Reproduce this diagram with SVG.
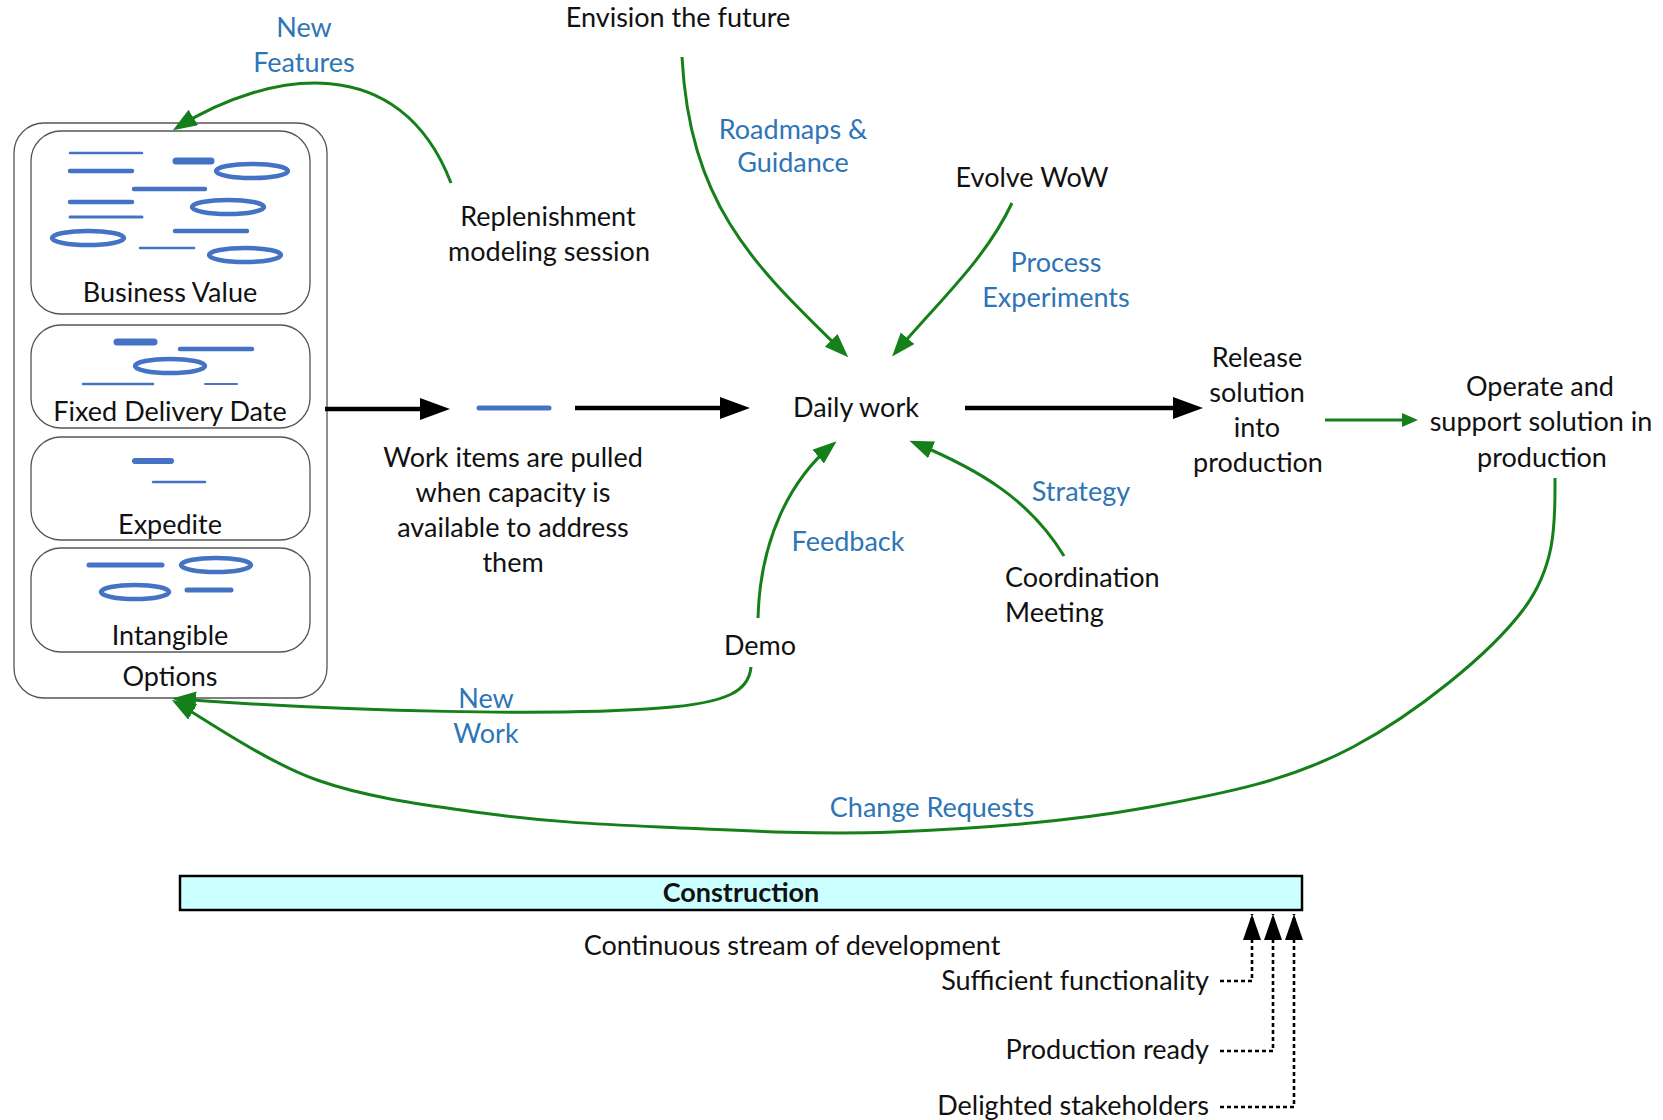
<svg xmlns="http://www.w3.org/2000/svg" width="1663" height="1120" viewBox="0 0 1663 1120">
<style>
text{font-family:Lato,"Liberation Sans",sans-serif;font-size:27px;fill:#111;text-anchor:middle}
.bl{fill:#2E75B6}
.l{text-anchor:start}
.r{text-anchor:end}
.bold{font-weight:bold}
.box{fill:none;stroke:#555;stroke-width:1.3}
.ic{fill:none;stroke:#4472C4;stroke-linecap:round}
.g{fill:none;stroke:#15801A;stroke-width:3}
.k{fill:none;stroke:#000;stroke-width:4.5}
.d{fill:none;stroke:#000;stroke-width:2.6;stroke-dasharray:4 3}
</style>
<defs>
<marker id="ak" markerUnits="userSpaceOnUse" markerWidth="32" markerHeight="24" refX="20" refY="11" orient="auto"><path d="M0,0 L30,11 L0,22 z" fill="#000"/></marker>
<marker id="ag" markerUnits="userSpaceOnUse" markerWidth="26" markerHeight="20" refX="18" refY="9" orient="auto"><path d="M0,0 L24,9 L0,18 z" fill="#15801A"/></marker>
<marker id="ags" markerUnits="userSpaceOnUse" markerWidth="18" markerHeight="16" refX="12" refY="7" orient="auto"><path d="M0,0 L16,7 L0,14 z" fill="#15801A"/></marker>
<marker id="ad" markerUnits="userSpaceOnUse" markerWidth="28" markerHeight="20" refX="26" refY="9" orient="auto"><path d="M0,0 L26,9 L0,18 z" fill="#000"/></marker>
</defs>

<g id="options">
<rect x="14" y="123" width="313" height="575" rx="30" class="box" stroke="#333"/>
<text x="170" y="686">Options</text>
</g>
<g id="business-value">
<rect x="31" y="131" width="279" height="183" rx="30" class="box"/>
<line x1="70" y1="153" x2="142" y2="153" class="ic" stroke-width="2.5"/>
<line x1="70" y1="171" x2="132" y2="171" class="ic" stroke-width="4.5"/>
<line x1="176" y1="161" x2="211" y2="161" class="ic" stroke-width="7"/>
<ellipse cx="252" cy="171" rx="36" ry="7" class="ic" stroke-width="4.5"/>
<line x1="134" y1="189" x2="205" y2="189" class="ic" stroke-width="4.5"/>
<line x1="70" y1="202" x2="132" y2="202" class="ic" stroke-width="4.5"/>
<line x1="70" y1="217" x2="142" y2="217" class="ic" stroke-width="3"/>
<ellipse cx="228" cy="207" rx="36" ry="7" class="ic" stroke-width="4.5"/>
<line x1="175" y1="231" x2="247" y2="231" class="ic" stroke-width="4.5"/>
<ellipse cx="88" cy="238" rx="36" ry="7" class="ic" stroke-width="4.5"/>
<line x1="140" y1="248" x2="194" y2="248" class="ic" stroke-width="2.5"/>
<ellipse cx="245" cy="255" rx="36" ry="7" class="ic" stroke-width="4.5"/>
<text x="170" y="302">Business Value</text>
</g>
<g id="fixed-delivery-date">
<rect x="31" y="325" width="279" height="103" rx="30" class="box"/>
<line x1="117" y1="342" x2="154" y2="342" class="ic" stroke-width="7"/>
<line x1="180" y1="349" x2="252" y2="349" class="ic" stroke-width="4.5"/>
<ellipse cx="170" cy="366" rx="35" ry="7" class="ic" stroke-width="4.5"/>
<line x1="83" y1="384" x2="153" y2="384" class="ic" stroke-width="2.5"/>
<line x1="205" y1="384" x2="237" y2="384" class="ic" stroke-width="2"/>
<text x="170" y="421">Fixed Delivery Date</text>
</g>
<g id="expedite">
<rect x="31" y="437" width="279" height="103" rx="30" class="box"/>
<line x1="135" y1="461" x2="171" y2="461" class="ic" stroke-width="6"/>
<line x1="153" y1="482" x2="205" y2="482" class="ic" stroke-width="2.5"/>
<text x="170" y="534">Expedite</text>
</g>
<g id="intangible">
<rect x="31" y="548" width="279" height="104" rx="30" class="box"/>
<line x1="89" y1="565" x2="162" y2="565" class="ic" stroke-width="5"/>
<ellipse cx="216" cy="565" rx="35" ry="7" class="ic" stroke-width="4.5"/>
<ellipse cx="135" cy="592" rx="34" ry="7" class="ic" stroke-width="4.5"/>
<line x1="187" y1="590" x2="231" y2="590" class="ic" stroke-width="5"/>
<text x="170" y="645">Intangible</text>
</g>

<g id="replenishment"><text x="548" y="226">Replenishment</text><text x="549" y="261">modeling session</text></g>
<g id="envision"><text x="678" y="27">Envision the future</text></g>
<g id="evolve"><text x="1032" y="187">Evolve WoW</text></g>
<g id="work-items">
<line x1="479" y1="408" x2="549" y2="408" class="ic" stroke-width="5"/>
<text x="513" y="467">Work items are pulled</text><text x="513" y="502">when capacity is</text><text x="513" y="537">available to address</text><text x="513" y="572">them</text>
</g>
<g id="daily-work"><text x="856" y="417">Daily work</text></g>
<g id="release"><text x="1257" y="367">Release</text><text x="1257" y="402">solution</text><text x="1257" y="437">into</text><text x="1258" y="472">production</text></g>
<g id="operate"><text x="1540" y="396">Operate and</text><text x="1541" y="431">support solution in</text><text x="1542" y="467">production</text></g>
<g id="coordination"><text x="1005" y="587" class="l">Coordination</text><text x="1005" y="622" class="l">Meeting</text></g>
<g id="demo"><text x="760" y="655">Demo</text></g>
<g id="construction">
<rect x="180" y="876" width="1122" height="34" fill="#CCFFFF" stroke="#000" stroke-width="2.5"/>
<text x="741" y="902" class="bold">Construction</text>
<text x="792" y="955">Continuous stream of development</text>
</g>
<g id="milestones">
<text x="1209" y="990" class="r">Sufficient functionality</text>
<text x="1209" y="1059" class="r">Production ready</text>
<text x="1209" y="1115" class="r">Delighted stakeholders</text>
</g>

<g id="connectors">
<line x1="325" y1="409" x2="440" y2="409" class="k" marker-end="url(#ak)"/>
<line x1="575" y1="408" x2="740" y2="408" class="k" marker-end="url(#ak)"/>
<line x1="965" y1="408" x2="1193" y2="408" class="k" marker-end="url(#ak)"/>
<line x1="1325" y1="420" x2="1414" y2="420" class="g" marker-end="url(#ags)"/>
<path d="M451,183 C400,50 270,70 178,127" class="g" marker-end="url(#ag)"/>
<path d="M682,57 C690,210 760,270 844,353" class="g" marker-end="url(#ag)"/>
<path d="M1012,203 C985,260 940,300 896,352" class="g" marker-end="url(#ag)"/>
<path d="M758,618 C760,540 790,480 832,445" class="g" marker-end="url(#ag)"/>
<path d="M1064,556 C1030,500 980,470 915,443" class="g" marker-end="url(#ag)"/>
<path d="M751,667 C749,690 730,703 660,708 C560,716 350,712 178,699" class="g" marker-end="url(#ag)"/>
<path d="M1555,478 C1555,520 1557,565 1523,610 C1489,655 1415,714 1353,747 C1291,780 1227,793 1150,807 C1073,821 975,829 893,832 C811,835 728,830 660,827 C592,824 540,821 483,813 C426,805 368,798 317,780 C266,762 200,716 177,703" class="g" marker-end="url(#ag)"/>
<path d="M1220,981 H1252 V914" class="d" marker-end="url(#ad)"/>
<path d="M1220,1051 H1273 V914" class="d" marker-end="url(#ad)"/>
<path d="M1220,1107 H1294 V914" class="d" marker-end="url(#ad)"/>
</g>

<g id="labels">
<text x="304" y="37" class="bl">New</text><text x="304" y="72" class="bl">Features</text>
<text x="793" y="139" class="bl">Roadmaps &amp;</text><text x="793" y="172" class="bl">Guidance</text>
<text x="1056" y="272" class="bl">Process</text><text x="1056" y="307" class="bl">Experiments</text>
<text x="1081" y="501" class="bl">Strategy</text>
<text x="848" y="551" class="bl">Feedback</text>
<text x="486" y="708" class="bl">New</text><text x="486" y="743" class="bl">Work</text>
<text x="932" y="817" class="bl">Change Requests</text>
</g>
</svg>
